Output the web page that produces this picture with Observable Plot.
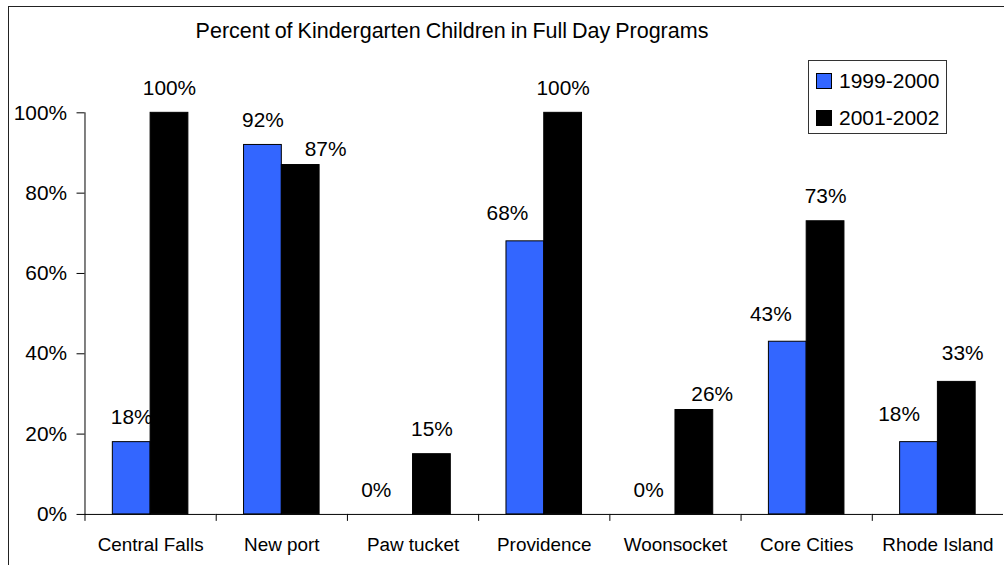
<!DOCTYPE html>
<html><head><meta charset="utf-8">
<script src="https://cdn.jsdelivr.net/npm/d3@7"></script>
<script src="https://cdn.jsdelivr.net/npm/@observablehq/plot@0.6"></script>
<style>
html,body{margin:0;padding:0;background:#fff;overflow:hidden;width:1004px;height:565px}
#wrap{position:relative;width:1004px;height:565px;overflow:hidden;font-family:"Liberation Sans",Arial,sans-serif;color:#000}
#border{position:absolute;left:8px;top:6px;width:1100px;height:700px;border:1.5px solid #222;box-sizing:border-box}
#title{position:absolute;top:18px;left:0;width:904px;text-align:center;font-size:21.5px;line-height:26px;word-spacing:-1px}
#chart{position:absolute;left:0;top:0}
#legend{position:absolute;left:808px;top:60px;width:139px;height:74px;border:1px solid #333;background:#fff;box-sizing:border-box}
.item{position:absolute;left:7px;font-size:21px;line-height:24px;height:24px;white-space:nowrap}
.sw{display:inline-block;width:14px;height:14px;border:1px solid #000;vertical-align:-1px;margin-right:7px}
</style></head>
<body>
<div id="wrap">
  <div id="border"></div>
  <div id="chart"></div>
  <div id="title">Percent of Kindergarten Children in Full Day Programs</div>
  <div id="legend"></div>
</div>
<script>
const categories = ["Central Falls","New port","Paw tucket","Providence","Woonsocket","Core Cities","Rhode Island"];
const series = ["1999-2000","2001-2002"];
const values1999 = [18,92,0,68,0,43,18];
const values2001 = [100,87,15,100,26,73,33];
const colors = ["#3366FF","#000000"];
const yTicks = [0,20,40,60,80,100];
// label nudges (dx, dy in px) as placed in the original chart
const labelNudge1999 = [[0,0],[0,0],[-18,0],[-18,-3],[-8,0],[-17,-3],[-20,-3]];
const labelNudge2001 = [[0,0],[25,9],[0,0],[0,0],[18,9],[0,0],[6,-4]];

const data = categories.flatMap((c,i)=>[
  {category:c, series:series[0], value:values1999[i]},
  {category:c, series:series[1], value:values2001[i]}
]);
const first = data.filter(d=>d.series===series[0]);
const second = data.filter(d=>d.series===series[1]);

const labelMarks = (rows, nudges) => rows.map((d,i) => Plot.text([d], {
  fx: "category", x: "series", y: "value", text: d => d.value + "%",
  dx: nudges[i][0], dy: -18 + nudges[i][1], lineAnchor: "bottom", fontSize: 21
}));

const plot = Plot.plot({
  width: 1010, height: 565,
  marginLeft: 85, marginRight: 1, marginTop: 113, marginBottom: 48,
  style: {fontFamily: "Liberation Sans, Arial, sans-serif", fontSize: "21px", color: "#000", background: "transparent", overflow: "visible"},
  fx: {domain: categories, padding: 0, label: null, axis: null},
  x: {domain: series, paddingInner: 0, paddingOuter: 0.714, axis: null},
  y: {domain: [0,100], axis: null},
  color: {domain: series, range: colors},
  marks: [
    Plot.frame({anchor: "left", facetAnchor: "left", stroke: "#000"}),
    Plot.frame({anchor: "left", insetTop: 404, insetBottom: -6, stroke: "#000"}),
    Plot.axisY({ticks: yTicks, tickFormat: d => d + "%", tickSize: 8, tickPadding: 10, fontSize: 21, label: null}),
    Plot.axisFx({anchor: "bottom", tickSize: 0, tickPadding: 23, fontSize: 19, label: null}),
    Plot.barY(first, {fx: "category", x: "series", y: "value", fill: "series", stroke: "#000", strokeWidth: 1}),
    ...labelMarks(first, labelNudge1999),
    Plot.barY(second, {fx: "category", x: "series", y: "value", fill: "series", stroke: "#000", strokeWidth: 1}),
    ...labelMarks(second, labelNudge2001),
    Plot.ruleY([0], {stroke: "#000"})
  ]
});
document.getElementById("chart").appendChild(plot);

const legend = document.getElementById("legend");
series.forEach((s,i) => {
  const it = document.createElement("div");
  it.className = "item";
  it.style.top = (8 + i*37) + "px";
  it.innerHTML = `<span class="sw" style="background:${colors[i]}"></span>${s}`;
  legend.appendChild(it);
});
</script>
</body></html>
